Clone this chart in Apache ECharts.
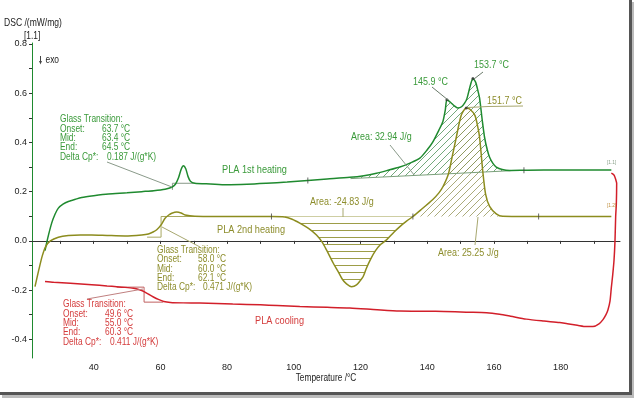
<!DOCTYPE html>
<html><head><meta charset="utf-8">
<script src="https://cdn.jsdelivr.net/npm/echarts@6/dist/echarts.min.js"></script>
<style>html,body{margin:0;padding:0;background:#fff}#c{width:634px;height:398px}</style>
</head><body><div id="c"></div>
<script>
// ---------- data (Temperature °C, DSC mW/mg) ----------
const heating1 = [[25.4,-0.04],[26.2,0.01],[27.4,0.072],[28.4,0.108],[29.4,0.133],[30.8,0.149],[32.4,0.160],[34.5,0.169],[36.4,0.176],[40,0.183],[44.4,0.19],[50,0.195],[54.4,0.200],[58,0.204],[61.4,0.21],[63.4,0.218],[64.5,0.23],[65.4,0.255],[66.2,0.29],[66.9,0.305],[67.6,0.293],[68.3,0.261],[69.0,0.242],[70.3,0.234],[75,0.231],[79.8,0.228],[86,0.23],[91.8,0.234],[98,0.239],[104.2,0.245],[110,0.251],[116.8,0.258],[121,0.265],[124.8,0.275],[128,0.286],[131.8,0.30],[135,0.317],[137.8,0.336],[140,0.37],[141.6,0.40],[143.5,0.45],[144.7,0.485],[145.4,0.53],[145.9,0.573],[146.8,0.565],[148,0.55],[149.2,0.54],[150.3,0.545],[151.2,0.56],[151.9,0.578],[152.8,0.625],[153.7,0.66],[154.5,0.645],[155.2,0.61],[155.7,0.58],[156.5,0.49],[157.2,0.42],[158.0,0.37],[158.7,0.34],[159.7,0.315],[160.7,0.30],[162.5,0.29],[164.7,0.286],[170,0.287],[180,0.288],[190,0.288],[195.2,0.288]];
const heating2 = [[22.4,-0.186],[23.5,-0.12],[24.6,-0.06],[25.6,-0.023],[27,0.0],[29.4,0.015],[32.4,0.022],[36,0.024],[39.4,0.024],[44,0.022],[49.4,0.02],[54.4,0.024],[56.4,0.028],[57.8,0.036],[58.9,0.045],[60.2,0.065],[61.4,0.092],[62.5,0.105],[63.4,0.112],[64.9,0.117],[66.2,0.113],[67.4,0.105],[70.3,0.1],[80,0.099],[93.3,0.099],[97.3,0.097],[99.5,0.088],[101.8,0.072],[104.5,0.05],[106.8,0.024],[108.5,-0.005],[109.8,-0.037],[111.8,-0.09],[113.3,-0.125],[114.5,-0.155],[115.8,-0.175],[117.3,-0.186],[118.8,-0.179],[120,-0.16],[120.8,-0.145],[121.8,-0.11],[123,-0.075],[124.5,-0.04],[126,-0.015],[127.8,0.004],[130,0.035],[131.8,0.058],[133.8,0.08],[135.7,0.099],[138,0.125],[141.6,0.167],[143.5,0.195],[144.7,0.22],[146.3,0.27],[147.3,0.33],[148.7,0.42],[150.2,0.51],[151.7,0.54],[152.8,0.535],[154.3,0.51],[155.2,0.46],[155.7,0.42],[156.2,0.35],[156.6,0.29],[157.5,0.19],[158.7,0.14],[160.7,0.11],[162.6,0.10],[170,0.099],[195.2,0.099]];
const cooling = [[195.2,0.275],[195.6,0.272],[196.1,0.265],[196.5,0.25],[196.8,0.234],[196.7,0.15],[196.5,0.099],[196.3,0.0],[196.0,-0.08],[195.6,-0.14],[195.2,-0.19],[194.8,-0.245],[194.2,-0.28],[193.6,-0.30],[192.7,-0.32],[191.5,-0.337],[189.7,-0.348],[187.7,-0.348],[185,-0.343],[182,-0.337],[179.7,-0.332],[175,-0.326],[169.7,-0.318],[165,-0.306],[161.7,-0.298],[157.8,-0.292],[151.7,-0.29],[145,-0.287],[140,-0.286],[131.8,-0.285],[125,-0.28],[116.8,-0.273],[110,-0.27],[101.8,-0.267],[95,-0.263],[90,-0.26],[81.7,-0.257],[71.8,-0.253],[66.8,-0.252],[63,-0.25],[61,-0.246],[59.4,-0.238],[57.9,-0.228],[56.6,-0.218],[55.1,-0.206],[53.5,-0.198],[51.9,-0.193],[49.4,-0.189],[46.9,-0.186],[44,-0.183],[39.4,-0.178],[33,-0.172],[28,-0.168],[25.4,-0.165]];

const xLabelValues = [40,60,80,100,120,140,160,180];
const xTickValues = [30,40,50,60,70,80,90,100,110,120,130,140,150,160,170,180,190];
const yLabelValues = [-0.4,-0.2,0.0,0.2,0.4,0.6,0.8];
const yTickValues = [-0.4,-0.3,-0.2,-0.1,0.0,0.1,0.2,0.3,0.4,0.5,0.6,0.7,0.8];

const area1Baseline = [[117,0.253],[165,0.285]];   // 1st heating melting, Area 32.94 J/g
const area2Range = [97.3,135.7];                     // 2nd heating cold cryst., Area -24.83 J/g
const area3Range = [135.7,164];                      // 2nd heating melting, Area 25.25 J/g
const baseline2 = 0.099;

const curveTicks1 = [[104.2,0.245],[169,0.287]];
const curveTicks2 = [[93.3,0.099],[135.7,0.099],[173.4,0.099]];
const peakPoints = [[145.9,0.573],[153.7,0.66],[151.7,0.54]];

const tg1 = [[[63.6,0.207],[63.6,0.234]],[[63.6,0.234],[70.3,0.234]]];
const tg2 = [[[60.2,0.015],[60.2,0.099]],[[60.2,0.099],[70.3,0.099]],[[56,0.015],[60.2,0.015]]];
const tg3 = [[[55.1,-0.188],[55.1,-0.249]],[[46.9,-0.188],[55.1,-0.188]],[[55.1,-0.249],[60.8,-0.249]]];

// ---------- styling ----------
const FONT = '"Liberation Sans",Arial,sans-serif';
const SX = 0.8;   // reference text is horizontally condensed
const GREEN = '#1f8a2f', OLIVE = '#8c8c1e', RED = '#d21f2a';
const GREEN_T = '#3a9a3a', OLIVE_T = '#8d8d2c', RED_T = '#d43c3c';

function hatch(color, kind, size){
  const c = document.createElement('canvas'); c.width = size; c.height = size;
  const g = c.getContext('2d'); g.strokeStyle = color; g.lineWidth = 1;
  g.beginPath();
  if (kind === 'diag') {
    g.moveTo(0,size); g.lineTo(size,0);
    g.moveTo(-2,2); g.lineTo(2,-2);
    g.moveTo(size-2,size+2); g.lineTo(size+2,size-2);
  } else {
    g.moveTo(0,size-0.5); g.lineTo(size,size-0.5);
  }
  g.stroke();
  return c;
}

function between(arr, a, b){ return arr.filter(p => p[0] >= a && p[0] <= b); }

const poly1 = between(heating1, area1Baseline[0][0], area1Baseline[1][0]).concat([area1Baseline[1], area1Baseline[0]]);
const poly2 = [[area2Range[0],baseline2]].concat(between(heating2, area2Range[0], area2Range[1])).concat([[area2Range[1],baseline2]]);
const poly3 = [[area3Range[0],baseline2]].concat(between(heating2, area3Range[0], area3Range[1])).concat([[area3Range[1],baseline2]]);

function areaSeries(points, fill){
  return {
    type:'custom', coordinateSystem:'cartesian2d', silent:true, z:1,
    data:[points[0]],
    renderItem(params, api){
      return {type:'polygon', shape:{points: points.map(p => api.coord(p))}, style:{fill: fill}};
    }
  };
}
function segSeries(segs, color){
  const d = [];
  segs.forEach(s => { d.push(s[0], s[1], ['-','-']); });
  return {type:'line', data:d, showSymbol:false, silent:true, connectNulls:false,
    lineStyle:{color:color, width:1}, z:2};
}

const chart = echarts.init(document.getElementById('c'), null, {renderer:'canvas'});

function txt(x, y, s, color, size, align){
  return {type:'text', x:x, y:y, scaleX:SX, silent:true, z:100,
    style:{text:s, fill:color, fontSize:size||10.5, fontFamily:FONT, verticalAlign:'middle', align:align||'left'}};
}
function ln(x1,y1,x2,y2,color){
  return {type:'line', silent:true, z:99, shape:{x1:x1,y1:y1,x2:x2,y2:y2}, style:{stroke:color, lineWidth:1}};
}
function block(x, y, vx, color, vals){
  const names = ['Onset:','Mid:','End:','Delta Cp*:'];
  const out = [txt(x, y, 'Glass Transition:', color)];
  names.forEach((n,i) => {
    out.push(txt(x, y + 9.35*(i+1), n, color));
    out.push(txt(i === 3 ? vx + 5 : vx, y + 9.35*(i+1), vals[i], color));
  });
  return out;
}

const graphics = [].concat(
  [txt(4, 23, 'DSC /(mW/mg)', '#222', 10.7), txt(24, 36, '[1.1]', '#222', 10.5),
   txt(326, 378, 'Temperature /°C', '#222', 10.4, 'center'),
   ln(40.5, 56, 40.5, 63, '#444'), {type:'polygon', silent:true, shape:{points:[[39,61],[42,61],[40.5,64.5]]}, style:{fill:'#444'}},
   txt(45.5, 60, 'exo', '#222', 10.5)],
  block(60, 119.5, 102, GREEN_T, ['63.7 °C','63.4 °C','64.5 °C','0.187 J/(g*K)']),
  block(157, 250, 198, OLIVE_T, ['58.0 °C','60.0 °C','62.1 °C','0.471 J/(g*K)']),
  block(63, 304.5, 105, RED_T, ['49.6 °C','55.0 °C','60.3 °C','0.411 J/(g*K)']),
  [ln(107,162,172,187,'#8a9a8a'), ln(162,227,200,247,'#a8a870'), ln(87,299,143,289,'#c08080'),
   txt(222, 170, 'PLA 1st heating', GREEN_T, 11.5),
   txt(217, 230, 'PLA 2nd heating', OLIVE_T, 11.5),
   txt(255, 321, 'PLA cooling', RED_T, 11.5),
   txt(351, 137, 'Area: 32.94 J/g', GREEN_T, 11.2), ln(390,145,415,176,'#8a9a8a'),
   txt(310, 202, 'Area: -24.83 J/g', OLIVE_T, 11.2), ln(343,208,343,217,'#a8a870'),
   txt(438, 253, 'Area: 25.25 J/g', OLIVE_T, 11.2), ln(475,245,478,217,'#a8a870'),
   txt(413, 82, '145.9 °C', GREEN_T, 11.2), ln(432,87,448,100,'#6a7a6a'),
   txt(474, 65, '153.7 °C', GREEN_T, 11.2), ln(474,79,483,72,'#6a7a6a'),
   txt(487, 101, '151.7 °C', OLIVE_T, 11.2), ln(468,107.5,488,106.5,'#a8a870'), ln(488,106.5,523,106,'#a8a870'),
   txt(607, 162, '[1.1]', '#8aa08a', 6), txt(607, 205, '[1.2]', '#c09040', 6),
   // frame shadow
   {type:'rect', silent:true, z:0, shape:{x:629, y:0, width:3, height:395}, style:{fill:'#555'}},
   {type:'rect', silent:true, z:0, shape:{x:632, y:2, width:2, height:395}, style:{fill:'#bbb'}},
   {type:'rect', silent:true, z:0, shape:{x:0, y:392, width:632, height:3}, style:{fill:'#555'}},
   {type:'rect', silent:true, z:0, shape:{x:2, y:395, width:632, height:3}, style:{fill:'#bbb'}}
  ]
);

const option = {
  animation:false,
  backgroundColor:'#fff',
  grid:{left:32, right:14, top:43, bottom:40, containLabel:false},
  xAxis:{type:'value', min:21.5, max:197.8,
    axisLine:{lineStyle:{color:'#333', width:1}},
    axisTick:{show:true, inside:false, length:3, lineStyle:{color:'#333'}, customValues:xTickValues},
    axisLabel:{color:'#222', fontSize:9, fontFamily:FONT, margin:5, customValues:xLabelValues},
    splitLine:{show:false}},
  yAxis:{type:'value', min:-0.476, max:0.804,
    axisLine:{show:true, lineStyle:{color:GREEN, width:1}},
    axisTick:{show:true, inside:false, length:3, lineStyle:{color:'#333'}, customValues:yTickValues},
    axisLabel:{color:'#222', fontSize:9, fontFamily:FONT, margin:5, customValues:yLabelValues,
      formatter:v => v.toFixed(1)},
    splitLine:{show:false}},
  series:[
    areaSeries(poly1, {image:hatch('rgba(70,140,80,0.75)','diag',7), repeat:'repeat'}),
    areaSeries(poly2, {image:hatch('rgba(140,140,40,0.85)','horiz',7), repeat:'repeat'}),
    areaSeries(poly3, {image:hatch('rgba(150,150,90,0.8)','diag',7), repeat:'repeat'}),
    {type:'line', data:area1Baseline, showSymbol:false, silent:true, lineStyle:{color:'#7aa07a', width:1}, z:2},
    segSeries(tg1, '#889988'),
    segSeries(tg2, '#a8a860'),
    segSeries(tg3, '#c06060'),
    {type:'line', name:'PLA 1st heating', data:heating1, showSymbol:false, smooth:0.25, lineStyle:{color:GREEN, width:1.5}, z:5},
    {type:'line', name:'PLA 2nd heating', data:heating2, showSymbol:false, smooth:0.25, lineStyle:{color:OLIVE, width:1.5}, z:5},
    {type:'line', name:'PLA cooling', data:cooling, showSymbol:false, smooth:0.25, lineStyle:{color:RED, width:1.5}, z:5},
    {type:'scatter', data:curveTicks1.concat(curveTicks2), symbol:'rect', symbolSize:[1,6], itemStyle:{color:'#444'}, silent:true, z:6},
    {type:'scatter', data:peakPoints, symbol:'circle', symbolSize:3, itemStyle:{color:'#333'}, silent:true, z:6}
  ],
  graphic:graphics
};
chart.setOption(option);
</script></body></html>
